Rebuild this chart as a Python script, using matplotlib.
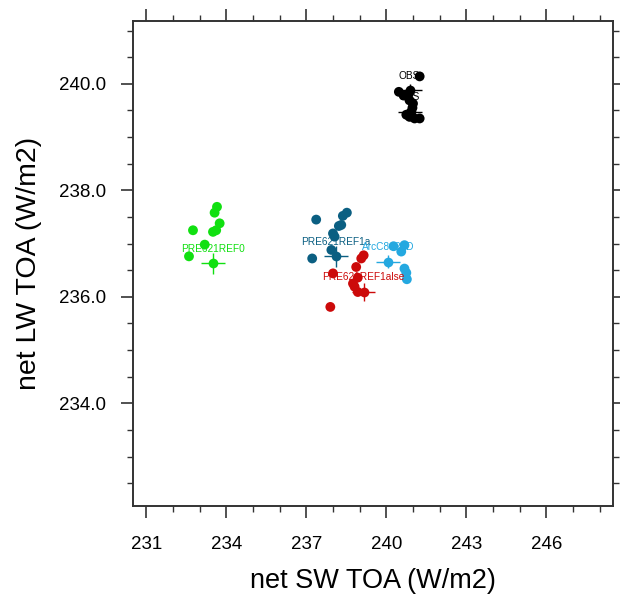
import matplotlib
matplotlib.use("Agg")
import matplotlib.pyplot as plt
from matplotlib.ticker import MultipleLocator, FormatStrFormatter

plt.rcParams['font.family'] = ['Liberation Sans', 'DejaVu Sans']

# ensemble members: net SW TOA (x) and net LW TOA (y), W/m2
green_x = [233.65, 233.56, 232.75, 233.75, 233.62, 233.50, 233.19, 232.60]
green_y = [237.69, 237.58, 237.25, 237.38, 237.25, 237.22, 236.98, 236.76]

teal_x = [238.52, 238.37, 237.37, 238.31, 238.22, 238.00, 238.06, 237.94, 237.22]
teal_y = [237.58, 237.52, 237.45, 237.35, 237.33, 237.19, 237.13, 236.88, 236.72]

red_x = [239.15, 239.06, 238.87, 238.00, 238.93, 238.75, 238.81, 238.93, 237.90]
red_y = [236.78, 236.72, 236.56, 236.44, 236.36, 236.25, 236.19, 236.09, 235.81]

blue_x = [240.27, 240.68, 240.56, 240.68, 240.75, 240.77]
blue_y = [236.95, 236.97, 236.85, 236.53, 236.45, 236.33]

obs_x = [241.25, 240.47, 240.85, 240.87, 241.00, 240.94, 240.87, 241.06, 241.25, 240.65, 240.98, 240.75]
obs_y = [240.14, 239.85, 239.82, 239.69, 239.63, 239.47, 239.38, 239.35, 239.35, 239.78, 239.55, 239.42]

# reference points with error bars and their labels
ref_names = ["PRE621REF0", "PRE621REF1a", "PRE621REF1alse", "ArcC8n22D", "OBS", "OBS"]
ref_x = [233.50, 238.12, 239.15, 240.06, 240.87, 240.87]
ref_y = [236.63, 236.76, 236.09, 236.66, 239.88, 239.47]
ref_xerr = [0.44, 0.44, 0.44, 0.44, 0.45, 0.45]
ref_yerr = [0.20, 0.20, 0.16, 0.12, 0.12, 0.12]

colors = ["#11e011", "#0b5f82", "#cc0a0a", "#24a8e0", "#000000", "#000000"]

groups = [(green_x, green_y), (teal_x, teal_y), (red_x, red_y),
          (blue_x, blue_y), (obs_x, obs_y)]

fig = plt.figure(figsize=(6.2, 5.94), dpi=100)
ax = fig.add_axes([0.2145, 0.1481, 0.7742, 0.8165])

for (gx, gy), c in zip(groups, colors):
    ax.scatter(gx, gy, s=50, color=c, edgecolors='none', zorder=3)

for name, x, y, xe, ye, c in zip(ref_names, ref_x, ref_y, ref_xerr, ref_yerr, colors):
    ax.errorbar(x, y, xerr=xe, yerr=ye, fmt='o', color=c, ms=7, mew=0,
                elinewidth=1.0, capsize=0, zorder=3)
    ax.annotate(name, (x, y), xytext=(0, 10.5), textcoords='offset points',
                ha='center', va='center', fontsize=7.3, color=c, zorder=4)

ax.set_xlim(230.5, 248.5)
ax.set_ylim(232.07, 241.18)

ax.xaxis.set_major_locator(MultipleLocator(3))
ax.xaxis.set_minor_locator(MultipleLocator(1))
ax.yaxis.set_major_locator(MultipleLocator(2))
ax.yaxis.set_minor_locator(MultipleLocator(0.5))
ax.yaxis.set_major_formatter(FormatStrFormatter('%.1f'))

ax.tick_params(which='both', direction='out', top=True, right=True,
               colors='#333333', labelcolor='black')
ax.tick_params(which='major', length=8.5, width=1.2, labelsize=13.5)
ax.tick_params(which='minor', length=4.3, width=1.0)
ax.tick_params(axis='x', which='major', pad=13)
ax.tick_params(axis='y', which='major', pad=11)
ax.tick_params(axis='x', which='both', labeltop=False)
ax.tick_params(axis='y', which='both', labelright=False)

for sp in ax.spines.values():
    sp.set_linewidth(1.4)
    sp.set_color('#333333')

ax.set_xlabel("net SW TOA (W/m2)", fontsize=19.5, labelpad=11)
ax.set_ylabel("net LW TOA (W/m2)", fontsize=20.5, labelpad=12)

fig.savefig("out.png", dpi=100)
